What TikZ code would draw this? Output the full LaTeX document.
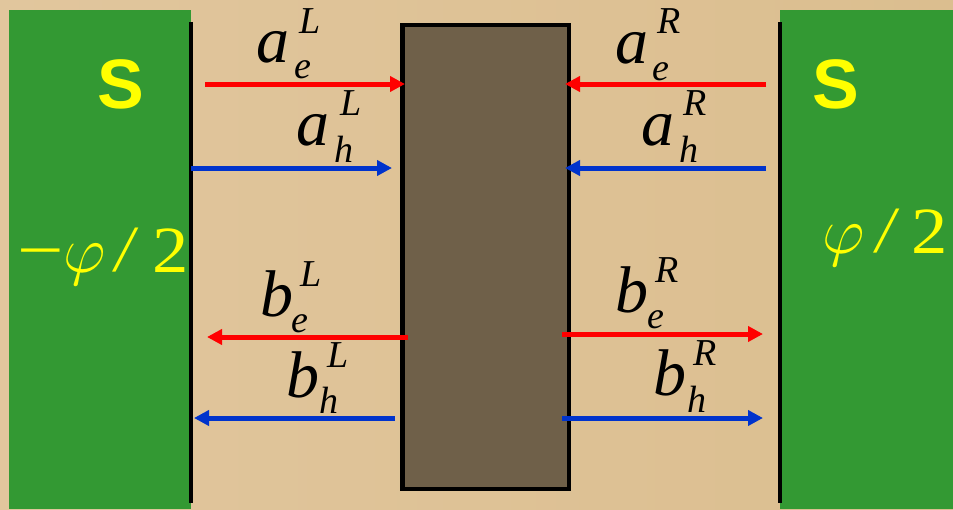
\documentclass[tikz,border=0pt]{standalone}
\usepackage{fix-cm}
\usepackage{graphicx}
\usepackage{fontspec}
\setmainfont{Liberation Serif}
\newfontfamily\sansfnt{Liberation Sans}
\usetikzlibrary{arrows.meta}
\definecolor{bgL}{RGB}{225,198,157}
\definecolor{bgR}{RGB}{219,190,143}
\definecolor{sgreen}{RGB}{51,153,51}
\definecolor{boxfill}{RGB}{111,96,73}
\definecolor{ared}{RGB}{255,0,0}
\definecolor{ablue}{RGB}{0,51,204}
\definecolor{syellow}{RGB}{255,255,0}
\tikzset{
  mainsym/.style={inner sep=0pt, anchor=base west, font=\fontsize{66}{66}\selectfont\itshape},
  scriptsym/.style={inner sep=0pt, anchor=base west, font=\fontsize{38}{38}\selectfont\itshape},
  phaselbl/.style={inner sep=0pt, anchor=base west, text=syellow, font=\fontsize{66}{66}\selectfont},
  slbl/.style={inner sep=0pt, text=syellow, font=\fontsize{70}{70}\selectfont\sansfnt\bfseries},
  eline/.style={line width=5pt, ared, -{Triangle[length=15pt,width=15pt]}},
  hline/.style={line width=5pt, ablue, -{Triangle[length=15pt,width=15pt]}},
  wall/.style={line width=4.5pt, black},
  supra/.style={fill=sgreen},
}
\begin{document}
\begin{tikzpicture}[x=1pt,y=-1pt]
\useasboundingbox (0,0) rectangle (953,509);
\shade[left color=bgL, right color=bgR] (0,0) rectangle (953,509);
% superconductors
\fill[supra] (9,10) rectangle (191,509);
\fill[supra] (780,10) rectangle (953,509);
\draw[wall] (191,22) -- (191,503);
\draw[wall] (780,22) -- (780,503);
% scattering region
\draw[line width=4.5pt, fill=boxfill] (402.5,25) rectangle (569,489);
% S labels
\node[slbl] (SL) at (121,84) {S};
\node[slbl] (SR) at (836,84) {S};
% phase labels
\node[phaselbl] (phiLm) at (17,272) {\scalebox{1.25}[1]{−}};
\node[phaselbl] (phiLp) at (63,272) {$\varphi$};
\node[phaselbl] (phiLs) at (115,271) {\itshape /};
\node[phaselbl] (phiL2) at (152,272) {\scalebox{1.1}[1]{2}};
\node[phaselbl] (phiRp) at (822,253) {$\varphi$};
\node[phaselbl] (phiRs) at (876,252) {\itshape /};
\node[phaselbl] (phiR2) at (911,253) {\scalebox{1.1}[1]{2}};
% arrow endpoints
\coordinate (aeLs) at (205,84);  \coordinate (aeLe) at (405,84);
\coordinate (ahLs) at (191,168); \coordinate (ahLe) at (392,168);
\coordinate (beLs) at (408,337); \coordinate (beLe) at (207,337);
\coordinate (bhLs) at (395,418); \coordinate (bhLe) at (194,418);
\coordinate (aeRs) at (766,84);  \coordinate (aeRe) at (565,84);
\coordinate (ahRs) at (766,168); \coordinate (ahRe) at (565,168);
\coordinate (beRs) at (562,334); \coordinate (beRe) at (763,334);
\coordinate (bhRs) at (562,418); \coordinate (bhRe) at (763,418);
\draw[eline] (aeLs) -- (aeLe);
\draw[hline] (ahLs) -- (ahLe);
\draw[eline] (beLs) -- (beLe);
\draw[hline] (bhLs) -- (bhLe);
\draw[eline] (aeRs) -- (aeRe);
\draw[hline] (ahRs) -- (ahRe);
\draw[eline] (beRs) -- (beRe);
\draw[hline] (bhRs) -- (bhRe);
% amplitude labels
\node[mainsym] (aeL) at (256,62) {a};
\node[scriptsym] (aeLsub) at (294,78) {e};
\node[scriptsym] (aeLsup) at (299,33) {L};
\node[mainsym] (ahL) at (296,145) {a};
\node[scriptsym] (ahLsub) at (334,162) {h};
\node[scriptsym] (ahLsup) at (340,115) {L};
\node[mainsym] (beL) at (260,316) {b};
\node[scriptsym] (beLsub) at (291,332) {e};
\node[scriptsym] (beLsup) at (300,286) {L};
\node[mainsym] (bhL) at (286,397) {b};
\node[scriptsym] (bhLsub) at (319,413) {h};
\node[scriptsym] (bhLsup) at (327,367) {L};
\node[mainsym] (aeR) at (615,63) {a};
\node[scriptsym] (aeRsub) at (652,80) {e};
\node[scriptsym] (aeRsup) at (657,33) {R};
\node[mainsym] (ahR) at (641,145) {a};
\node[scriptsym] (ahRsub) at (679,162) {h};
\node[scriptsym] (ahRsup) at (683,115) {R};
\node[mainsym] (beR) at (615,312) {b};
\node[scriptsym] (beRsub) at (647,328) {e};
\node[scriptsym] (beRsup) at (655,282) {R};
\node[mainsym] (bhR) at (653,395) {b};
\node[scriptsym] (bhRsub) at (687,412) {h};
\node[scriptsym] (bhRsup) at (693,365) {R};
\end{tikzpicture}
\end{document}
